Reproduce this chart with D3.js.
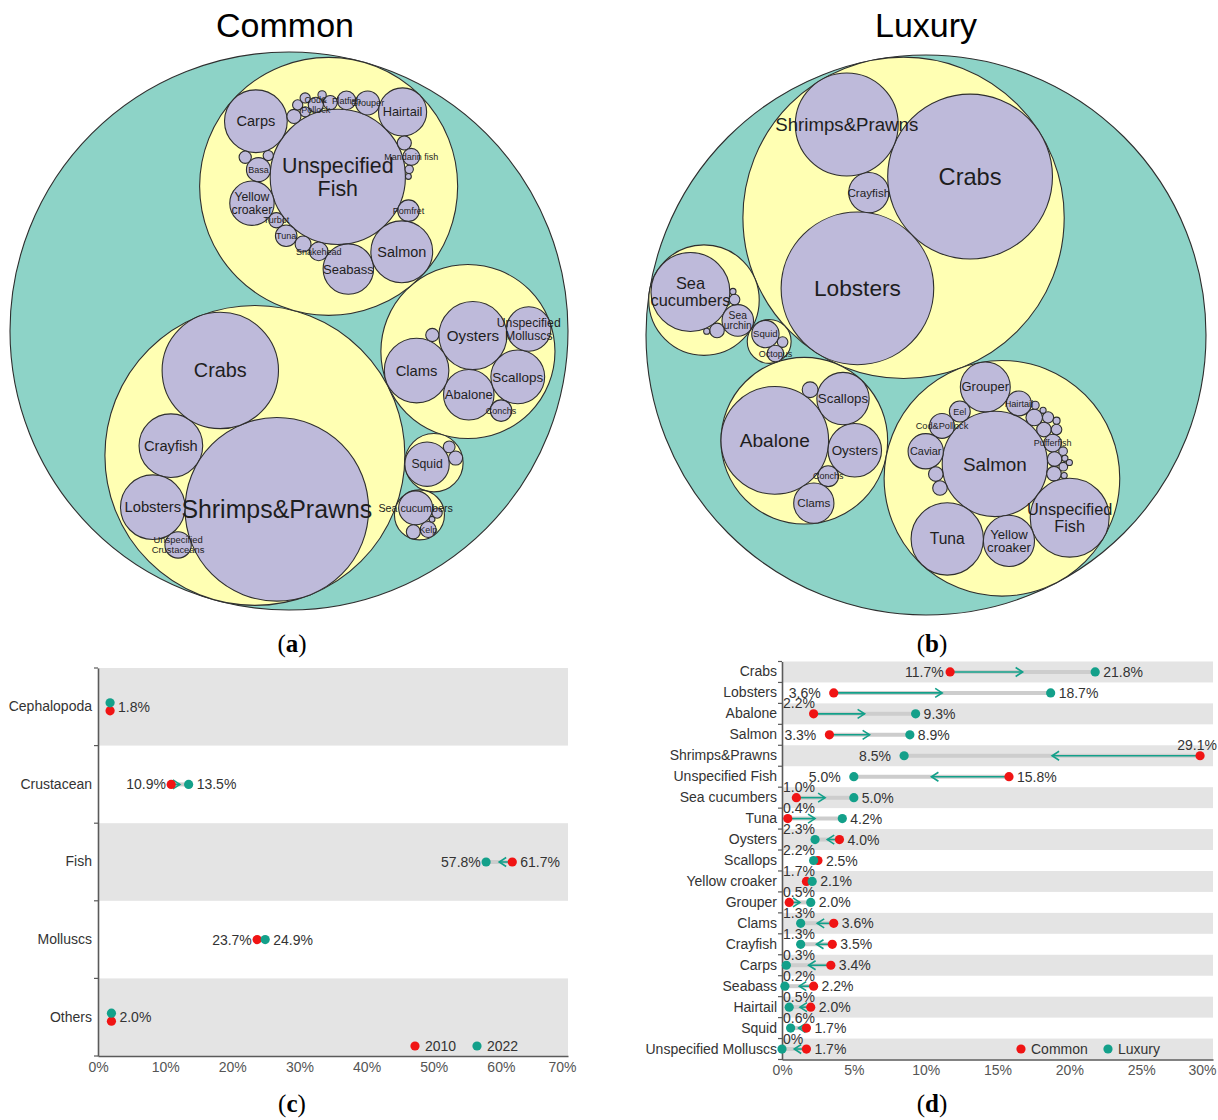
<!DOCTYPE html>
<html>
<head>
<meta charset="utf-8">
<title>Seafood consumption structure: common vs luxury</title>
<script src="https://cdn.jsdelivr.net/npm/d3@7"></script>
<style>
  html, body { margin: 0; background: #fff; }
  svg { display: block; font-family: "Liberation Sans", Arial, Helvetica, sans-serif; }
</style>
</head>
<body>
<svg id="chart" width="1218" height="1120"></svg>
<script>
// ---------- Circle-pack leaves: [label, share %]; "\n" breaks a label onto two lines ----------
const commonMolluscs = [
  ["Oysters", 4.0], ["Abalone", 2.2], ["Clams", 3.6], ["Scallops", 2.5],
  ["Unspecified\nMolluscs", 1.7], ["", 0.15], ["Conchs", 0.4]
];
const commonCrustacean = [
  ["Crayfish", 3.5], ["Shrimps&Prawns", 29.1], ["Lobsters", 3.6], ["Crabs", 11.7],
  ["Unspecified\nCrustaceans", 0.6]
];
// fish: one large species ringed by the others (two arms growing from a small seed)
const commonFishCentre = ["Unspecified\nFish", 15.8];
const commonFishSeed = ["", 0.09];
const commonFishArmA = [
  ["Carps", 3.4], ["", 0.17], ["", 0.09], ["Cod&\nPollock", 0.2], ["", 0.17], ["Flatfish", 0.3],
  ["Grouper", 0.5], ["Hairtail", 2.0], ["", 0.17], ["Mandarin fish", 0.25]
];
const commonFishArmB = [
  ["Basa", 0.5], ["Yellow\ncroaker", 1.7], ["Turbot", 0.2], ["Tuna", 0.4], ["", 0.22],
  ["Snakehead", 0.3], ["Seabass", 2.2], ["Salmon", 3.3], ["Pomfret", 0.4]
];
const commonFishOuter = [["", 0.13], ["", 0.09], ["", 0.09], ["", 0.06], ["", 0.06], ["", 0.03]];
const commonCephalopoda = [["Squid", 1.7], ["", 0.12], ["", 0.17]];
const commonOthers = [["Sea cucumbers", 1.0], ["Kelp", 0.22], ["", 0.17], ["", 0.03], ["", 0.09]];

const luxuryMolluscs = [
  ["Abalone", 9.3], ["Oysters", 2.3], ["Conchs", 0.35], ["Scallops", 2.2], ["Clams", 1.3], ["", 0.2]
];
const luxuryCrustacean = [["Crayfish", 1.3], ["Crabs", 21.8], ["Lobsters", 18.7], ["Shrimps&Prawns", 8.5]];
const luxuryFishCentre = ["Salmon", 8.9];
const luxuryFishSeed = ["", 0.17];
const luxuryFishArmA = [
  ["Pufferfish", 0.25], ["", 0.17], ["", 0.17], ["Unspecified\nFish", 5.0], ["Yellow\ncroaker", 2.1],
  ["Tuna", 4.2]
];
const luxuryFishArmB = [
  ["", 0.22], ["Hairtail", 0.5], ["Grouper", 2.0], ["Eel", 0.35], ["Cod&Pollock", 0.5], ["Caviar", 1.0],
  ["", 0.17], ["", 0.17]
];
const luxuryFishOuter = [
  ["", 0.1], ["", 0.09], ["", 0.06], ["", 0.06], ["", 0.05], ["", 0.04],
  ["", 0.03], ["", 0.03], ["", 0.03], ["", 0.03]
];
const luxuryCephalopoda = [["Squid", 0.6], ["", 0.09], ["Octopus", 0.22]];
const luxuryOthers = [
  ["Sea\ncucumbers", 5.0], ["Sea\nurchin", 0.8], ["", 0.17], ["", 0.09], ["", 0.03], ["", 0.03]
];

// Direction (degrees) in which each level lays out its first two members
const commonTurns = { Common: -26, Molluscs: 94, Crustacean: 31, Fish: -163, Cephalopoda: -38, Others: 60 };
const luxuryTurns = { Luxury: 114, Molluscs: 7, Crustacean: -9, Fish: -35, Cephalopoda: 25, Others: 31 };

// ---------- Panel (c): group shares, 2010 vs 2022 ----------
const groupNames = ["Cephalopoda", "Crustacean", "Fish", "Molluscs", "Others"];
const share2010 = [1.8, 10.9, 61.7, 23.7, 2.0];
const share2022 = [1.8, 13.5, 57.8, 24.9, 2.0];
const ticksC = [0, 10, 20, 30, 40, 50, 60, 70];

// ---------- Panel (d): species shares, common vs luxury ----------
const species = ["Crabs", "Lobsters", "Abalone", "Salmon", "Shrimps&Prawns", "Unspecified Fish",
  "Sea cucumbers", "Tuna", "Oysters", "Scallops", "Yellow croaker", "Grouper", "Clams",
  "Crayfish", "Carps", "Seabass", "Hairtail", "Squid", "Unspecified Molluscs"];
const commonShare = [11.7, 3.6, 2.2, 3.3, 29.1, 15.8, 1.0, 0.4, 4.0, 2.5, 1.7, 0.5, 3.6, 3.5, 3.4, 2.2, 2.0, 1.7, 1.7];
const luxuryShare = [21.8, 18.7, 9.3, 8.9, 8.5, 5.0, 5.0, 4.2, 2.3, 2.2, 2.1, 2.0, 1.3, 1.3, 0.3, 0.2, 0.5, 0.6, 0];
const ticksD = [0, 5, 10, 15, 20, 25, 30];

const RED = "#f01414", TEAL = "#13a08a";
const depthFill = ["#8dd3c7", "#ffffb3", "#bebada"];
const svg = d3.select("#chart");

// Sibling order that lets d3.packSiblings wrap two arms of circles around a centre circle.
// Each step takes the next arm member that the packer lays against the centre and that
// arm's end; when the packer asks for an outer notch instead, a small outer circle fills it.
function ringOrder(centre, seed, armA, armB, outer) {
  const order = [centre, seed, armA[0], armB[0]];
  let i = 1, j = 1, k = 0;
  const touches = (p, q) => Math.abs(Math.hypot(p.x - q.x, p.y - q.y) - p.r - q.r) < 1e-6 * (p.r + q.r);
  const fits = (cand, end) => {
    const trial = order.concat([cand]).map(d => ({ r: Math.sqrt(d[1]) }));
    d3.packSiblings(trial);
    const p = trial[trial.length - 1];
    return touches(p, trial[0]) && touches(p, trial[order.indexOf(end)]);
  };
  while (i < armA.length || j < armB.length) {
    if (i < armA.length && fits(armA[i], armA[i - 1])) order.push(armA[i++]);
    else if (j < armB.length && fits(armB[j], armB[j - 1])) order.push(armB[j++]);
    else if (k < outer.length) order.push(outer[k++]);
    else if (i < armA.length) order.push(armA[i++]);
    else order.push(armB[j++]);
  }
  return order.concat(outer.slice(k));
}
const commonFish = ringOrder(commonFishCentre, commonFishSeed, commonFishArmA, commonFishArmB, commonFishOuter);
const luxuryFish = ringOrder(luxuryFishCentre, luxuryFishSeed, luxuryFishArmA, luxuryFishArmB, luxuryFishOuter);

// ---------- circle pack ----------
function turn(x, y, deg) {
  const a = deg * Math.PI / 180, c = Math.cos(a), s = Math.sin(a);
  return [x * c - y * s, x * s + y * c];
}

function drawPack(cfg) {
  const tree = {
    name: cfg.title,
    children: cfg.groups.map(([name, items]) => ({
      name,
      children: items.filter(d => d[1] > 0).map(([label, value]) => ({ name: label, value }))
    }))
  };
  const root = d3.hierarchy(tree).sum(d => d.value || 0);
  d3.pack().size([cfg.r * 2, cfg.r * 2]).padding(0)(root);

  // orient the groups around the root (optionally mirrored), then each group's members
  root.children.forEach(g => {
    const offs = g.children.map(d => [d.x - g.x, d.y - g.y]);
    let dx = g.x - root.x, dy = g.y - root.y;
    if (cfg.mirror) dy = -dy;
    [dx, dy] = turn(dx, dy, cfg.turns[cfg.title]);
    g.x = root.x + dx; g.y = root.y + dy;
    g.children.forEach((d, i) => {
      const [ox, oy] = turn(offs[i][0], offs[i][1], cfg.turns[g.data.name]);
      d.x = g.x + ox; d.y = g.y + oy;
    });
  });

  const g = svg.append("g").attr("transform", `translate(${cfg.cx - cfg.r},${cfg.cy - cfg.r})`);
  g.selectAll("circle").data(root.descendants()).join("circle")
    .attr("cx", d => d.x).attr("cy", d => d.y).attr("r", d => d.r)
    .attr("fill", d => depthFill[d.depth])
    .attr("stroke", "#2e2e2e").attr("stroke-width", 1.1);

  const leaves = root.leaves().filter(d => d.data.name);
  g.selectAll("text.leaf").data(leaves).join("text")
    .attr("class", "leaf")
    .attr("text-anchor", "middle")
    .attr("fill", "#1e1e1e")
    .each(function (d) {
      const t = d3.select(this);
      const lines = d.data.name.split("\n");
      const fs = Math.max(9, 2.6 * Math.sqrt(d.r));
      const lh = fs * 1.05;
      t.attr("font-size", fs);
      lines.forEach((l, i) => t.append("tspan")
        .attr("x", d.x)
        .attr("y", d.y + (i - (lines.length - 1) / 2) * lh + fs * 0.35)
        .text(l));
    });

  svg.append("text").attr("x", cfg.titleX).attr("y", 37)
    .attr("text-anchor", "middle").attr("font-size", 34).attr("fill", "#000")
    .text(cfg.title);
}

drawPack({
  title: "Common", cx: 289, cy: 331, r: 279, titleX: 285, turns: commonTurns, mirror: true,
  groups: [["Crustacean", commonCrustacean], ["Molluscs", commonMolluscs], ["Fish", commonFish],
           ["Cephalopoda", commonCephalopoda], ["Others", commonOthers]]
});
drawPack({
  title: "Luxury", cx: 926, cy: 335, r: 280, titleX: 926, turns: luxuryTurns, mirror: true,
  groups: [["Crustacean", luxuryCrustacean], ["Molluscs", luxuryMolluscs], ["Fish", luxuryFish],
           ["Cephalopoda", luxuryCephalopoda], ["Others", luxuryOthers]]
});

// ---------- dumbbell charts ----------
const fmt = v => v === 0 ? "0%" : v.toFixed(1) + "%";

function drawDumbbell(cfg) {
  const x = d3.scaleLinear().domain([0, cfg.max]).range([cfg.x0, cfg.x1]);
  const y = d3.scaleBand().domain(cfg.cats).range([cfg.y0, cfg.y1]);
  const bw = y.bandwidth();
  const g = svg.append("g").attr("font-size", 14);

  g.selectAll("rect.band").data(cfg.cats.filter((_, i) => i % 2 === 0)).join("rect")
    .attr("class", "band")
    .attr("x", cfg.x0).attr("y", d => y(d))
    .attr("width", cfg.x1 - cfg.x0).attr("height", bw)
    .attr("fill", "#e4e4e4");

  // x axis
  const xAxis = g.append("g").attr("transform", `translate(0,${cfg.y1})`)
    .call(d3.axisBottom(x).tickValues(cfg.ticks).tickFormat(d => d + "%").tickSize(0).tickPadding(6));
  xAxis.attr("font-family", null).attr("font-size", 14);
  xAxis.select(".domain").attr("stroke", "#5a5a5a").attr("stroke-width", 1.6);
  xAxis.selectAll(".tick text").attr("fill", "#555").each(function (d) {
    const b = this.getBBox();
    const right = x(d) + b.x + b.width;
    if (right > cfg.tickRight) d3.select(this).attr("dx", cfg.tickRight - right);
  });

  // y axis with category names
  const yAxis = g.append("g").attr("transform", `translate(${cfg.x0},0)`)
    .call(d3.axisLeft(y).tickSize(0).tickPadding(cfg.namePad));
  yAxis.attr("font-family", null).attr("font-size", 14);
  yAxis.select(".domain").attr("stroke", "#5a5a5a").attr("stroke-width", 1.6);
  yAxis.selectAll(".tick text").attr("fill", "#333");
  const edges = cfg.cats.map(c => y(c)).concat([cfg.y1]);
  g.selectAll("line.edge").data(edges).join("line")
    .attr("class", "edge")
    .attr("x1", cfg.x0 - 4).attr("x2", cfg.x0).attr("y1", d => d).attr("y2", d => d)
    .attr("stroke", "#5a5a5a").attr("stroke-width", 1.2);

  cfg.cats.forEach((cat, i) => {
    const va = cfg.a[i], vb = cfg.b[i];
    const cy = y(cat) + bw / 2;
    const xa = x(va), xb = x(vb);
    const row = g.append("g");
    row.append("line")
      .attr("x1", Math.min(xa, xb)).attr("x2", Math.max(xa, xb))
      .attr("y1", cy).attr("y2", cy)
      .attr("stroke", "#cdcdcd").attr("stroke-width", 4);
    if (Math.abs(xb - xa) > 10) {
      const xm = (xa + xb) / 2, dir = Math.sign(xb - xa);
      row.append("line").attr("x1", xa).attr("x2", xm).attr("y1", cy).attr("y2", cy)
        .attr("stroke", TEAL).attr("stroke-width", 1.6);
      row.append("path")
        .attr("d", `M${xm - dir * 7},${cy - 4.5}L${xm},${cy}L${xm - dir * 7},${cy + 4.5}`)
        .attr("fill", "none").attr("stroke", TEAL).attr("stroke-width", 1.6);
    }
    const same = va === vb;
    row.append("circle").attr("cx", xa).attr("cy", same ? cy + 4 : cy).attr("r", 4.6).attr("fill", RED);
    row.append("circle").attr("cx", xb).attr("cy", same ? cy - 4 : cy).attr("r", 4.6).attr("fill", TEAL);

    const hi = Math.max(va, vb), lo = Math.min(va, vb);
    const rt = row.append("text").attr("fill", "#333").text(fmt(hi))
      .attr("x", x(hi) + 8).attr("y", cy + 5);
    const w = rt.node().getComputedTextLength();
    if (x(hi) + 8 + w > cfg.labelRight) {
      rt.attr("text-anchor", "end").attr("x", cfg.labelRight).attr("y", cy - 10.5 + 5);
    }
    if (!same) {
      const lt = row.append("text").attr("fill", "#333").text(fmt(lo));
      const start = x(lo) - 45;
      if (start < cfg.x0) lt.attr("x", cfg.x0 + 1).attr("y", cy - 10.5 + 5);
      else lt.attr("x", start).attr("y", cy + 5);
    }
  });

  // legend
  cfg.legend.forEach((l, i) => {
    const lx = cfg.legendX + i * cfg.legendGap;
    g.append("circle").attr("cx", lx).attr("cy", cfg.legendY).attr("r", 4.6).attr("fill", l.color);
    g.append("text").attr("x", lx + 10).attr("y", cfg.legendY + 5).attr("fill", "#333").text(l.label);
  });
}

drawDumbbell({
  cats: groupNames, a: share2010, b: share2022, max: 70, ticks: ticksC,
  x0: 98, x1: 568, y0: 668, y1: 1056, namePad: 6, tickRight: 576, labelRight: 590,
  legend: [{ label: "2010", color: RED }, { label: "2022", color: TEAL }],
  legendX: 415, legendY: 1046, legendGap: 62
});
drawDumbbell({
  cats: species, a: commonShare, b: luxuryShare, max: 30, ticks: ticksD,
  x0: 782, x1: 1213, y0: 661.5, y1: 1059.5, namePad: 5, tickRight: 1216, labelRight: 1217,
  legend: [{ label: "Common", color: RED }, { label: "Luxury", color: TEAL }],
  legendX: 1021, legendY: 1049, legendGap: 87
});

// ---------- panel tags ----------
function panelTag(x, y, letter) {
  const t = svg.append("text").attr("x", x).attr("y", y).attr("text-anchor", "middle")
    .attr("font-family", '"Liberation Serif", "Times New Roman", serif').attr("font-size", 25).attr("fill", "#000");
  t.append("tspan").text("(");
  t.append("tspan").attr("font-weight", "bold").text(letter);
  t.append("tspan").text(")");
}
panelTag(292, 652, "a");
panelTag(932, 652, "b");
panelTag(292, 1112, "c");
panelTag(932, 1112, "d");
</script>
</body>
</html>
